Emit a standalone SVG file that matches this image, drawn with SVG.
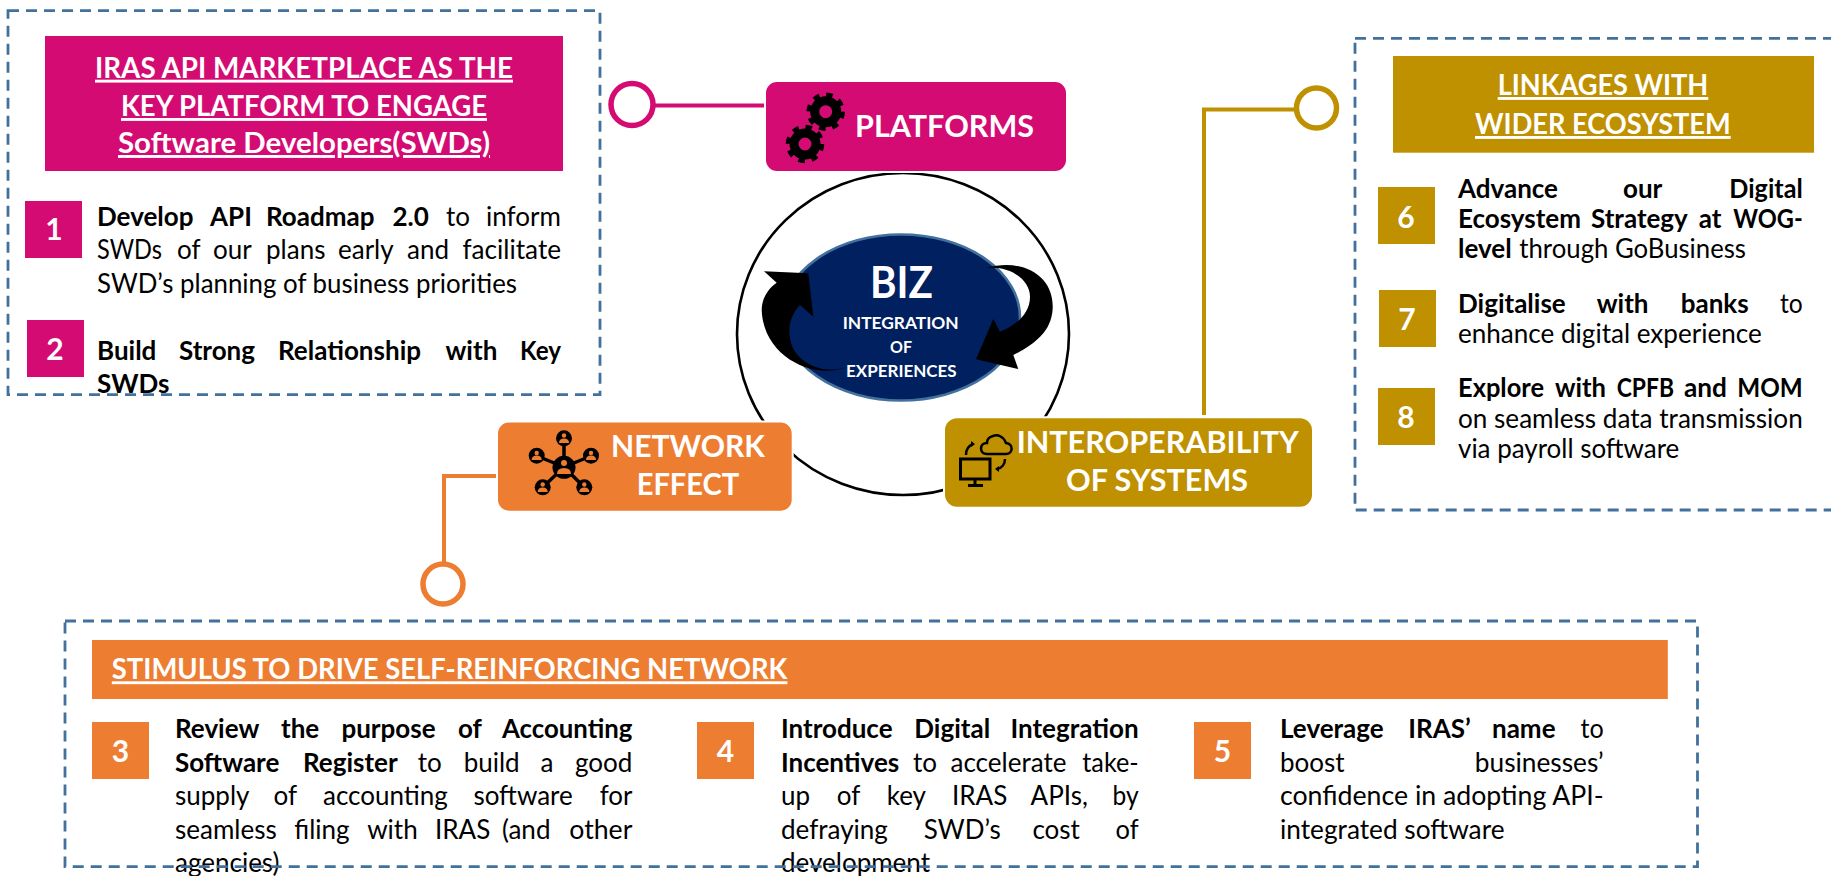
<svg xmlns="http://www.w3.org/2000/svg" width="1831" height="876" viewBox="0 0 1831 876">
<style>
text{font-family:Lato,"Liberation Sans",sans-serif;fill:#000}
.b{font-size:26px;white-space:pre}
.bd,tspan.bd{font-weight:700}
.t{font-size:29px;font-weight:700;fill:#fff;text-anchor:start;text-decoration:underline}
.n{font-size:31px;font-weight:700;fill:#fff}
.d{font-size:30px;font-weight:700;fill:#fff;text-anchor:middle}
.w{fill:#fff;font-weight:700}
.dash{fill:none;stroke:#41719c;stroke-width:2.800;stroke-dasharray:11 7}
.pk{fill:#d30b72}.or{fill:#ed7d31}.gd{fill:#bf9000}
.conn{fill:none;stroke-width:4}
.ring{fill:#fff;stroke-width:5.500}
</style>
<defs>
<g id="gear"><circle r="11" fill="none" stroke="#000" stroke-width="9"/><circle r="17" fill="none" stroke="#000" stroke-width="4.500" stroke-dasharray="6.500 6.850"/></g>
</defs>

<g id="connectors">
<path class="conn" stroke="#d30b72" d="M654 105.500H766"/>
<circle class="ring" stroke="#d30b72" cx="632" cy="104.500" r="21"/>
<path class="conn" stroke="#bf9000" d="M1295 109.500H1204V415"/>
<circle class="ring" stroke="#bf9000" cx="1316.500" cy="108" r="20"/>
<path class="conn" stroke="#ed7d31" d="M498 476H444V563"/>
<circle class="ring" stroke="#ed7d31" cx="443" cy="584" r="20"/>
</g>

<g id="hub">
<ellipse cx="903" cy="334" rx="166" ry="161" fill="none" stroke="#000" stroke-width="2.600"/>
<ellipse cx="901" cy="317.500" rx="119" ry="83" fill="#002060" stroke="#41719c" stroke-width="2.600"/>
<text class="w" x="870" y="297.700" font-size="43" textLength="63" lengthAdjust="spacingAndGlyphs">BIZ</text>
<text class="w" x="842.700" y="328.700" font-size="17" textLength="116" lengthAdjust="spacingAndGlyphs">INTEGRATION</text>
<text class="w" x="890" y="352.500" font-size="17" textLength="22" lengthAdjust="spacingAndGlyphs">OF</text>
<text class="w" x="846" y="376.700" font-size="17" textLength="110.700" lengthAdjust="spacingAndGlyphs">EXPERIENCES</text>
<path d="M846.700 367.300C813.300 380 763.300 356.700 761.700 310C761.700 298.300 768.300 288.300 776.700 282.700L764 271.300L808.300 273.300L813.300 316.700L800 305C790 315 786.700 330 791.700 345C798.300 363.300 823.300 375 846.700 367.300Z"/>
<path d="M986 268.300C1006.700 261.700 1030 265 1043.300 280C1055 293.300 1056.700 316.700 1043.300 333.300C1035 343.300 1023.300 350 1013.300 355L1018.300 369L976 359.300L993.300 319L1000 331.700C1016.700 325 1030 313.300 1030 296.700C1030 280 1010 265 986 268.300Z"/>
</g>

<g id="node-platforms">
<rect class="pk" x="765" y="81" width="302" height="91" rx="12" stroke="#fff" stroke-width="2"/>
<use href="#gear" x="825.700" y="111.700"/>
<use href="#gear" x="805" y="144"/>
<text class="n" x="855" y="137" textLength="179" lengthAdjust="spacingAndGlyphs">PLATFORMS</text>
</g>

<g id="node-network">
<rect class="or" x="497" y="421.500" width="295.700" height="90.200" rx="12" stroke="#fff" stroke-width="2"/>
<g stroke="#000" stroke-width="3.500"><path d="M564 467V438M564 467L537 456M564 467L591 456M564 467L543 487M564 467L584 487"/></g>
<circle cx="564" cy="467.300" r="11.500"/>
<g fill="#000"><circle cx="564" cy="438.300" r="8"/><circle cx="536.700" cy="455.700" r="8"/><circle cx="591" cy="455.700" r="8"/><circle cx="542.700" cy="487.300" r="8"/><circle cx="584.300" cy="487.300" r="8"/></g>
<g fill="#ed7d31">
<circle cx="564" cy="463" r="3"/><path d="M557 474q0-6 7-6t7 6z"/>
<circle cx="564" cy="435.500" r="2.200"/><path d="M559 443q0-4.500 5-4.500t5 4.500z"/>
<circle cx="536.700" cy="453" r="2.200"/><path d="M531.700 460q0-4.500 5-4.500t5 4.500z"/>
<circle cx="591" cy="453" r="2.200"/><path d="M586 460q0-4.500 5-4.500t5 4.500z"/>
<circle cx="542.700" cy="484.500" r="2.200"/><path d="M537.700 492q0-4.500 5-4.500t5 4.500z"/>
<circle cx="584.300" cy="484.500" r="2.200"/><path d="M579.300 492q0-4.500 5-4.500t5 4.500z"/>
</g>
<text class="n" x="611" y="456.700" textLength="154" lengthAdjust="spacingAndGlyphs">NETWORK</text>
<text class="n" x="636.700" y="495.300" textLength="102.600" lengthAdjust="spacingAndGlyphs">EFFECT</text>
</g>

<g id="node-interoperability">
<rect class="gd" x="944" y="417.300" width="369" height="90.400" rx="13" stroke="#fff" stroke-width="2"/>
<g fill="none" stroke="#000" stroke-width="2.500">
<rect x="960.500" y="459" width="29.500" height="20" stroke-width="3"/>
<path d="M975 479V485M968 485.500H983" stroke-width="3"/>
<path d="M987 454H1006C1013 454 1014 444 1006 443C1004 437 998 434 993 436C989 437 987 440 987 443C979 443 979 454 987 454Z"/>
<path d="M966 455C966 449 968 446 973 444"/>
<path d="M1005 459C1005 464 1002 468 997 469"/>
</g>
<path d="M971 441L975 444L971 447Z M999 466L995 469L999 472Z"/>
<text class="n" x="1016.700" y="452.700" textLength="282" lengthAdjust="spacingAndGlyphs">INTEROPERABILITY</text>
<text class="n" x="1066" y="491" textLength="182" lengthAdjust="spacingAndGlyphs">OF SYSTEMS</text>
</g>

<g id="panel-platforms">
<rect class="pk" x="45" y="36" width="518" height="135"/>
<text class="t" x="95" y="77.700" textLength="418" lengthAdjust="spacingAndGlyphs">IRAS API MARKETPLACE AS THE</text>
<text class="t" x="121" y="116" textLength="366" lengthAdjust="spacingAndGlyphs">KEY PLATFORM TO ENGAGE</text>
<text class="t" x="118" y="153" textLength="372" lengthAdjust="spacingAndGlyphs">Software Developers(SWDs)</text>
<g id="item-1"><rect class="pk" x="25" y="201" width="57" height="57"/><text class="d" x="54" y="240">1</text>
<text class="b" y="226"><tspan class="bd" x="97">Develop</tspan><tspan class="bd" x="210">API</tspan><tspan class="bd" x="266">Roadmap</tspan><tspan class="bd" x="392.500">2.0</tspan><tspan x="446">to</tspan><tspan x="486" textLength="75" lengthAdjust="spacingAndGlyphs">inform</tspan></text>
<text class="b" y="259"><tspan x="97" textLength="65" lengthAdjust="spacingAndGlyphs">SWDs</tspan><tspan x="177">of</tspan><tspan x="213">our</tspan><tspan x="266">plans</tspan><tspan x="338">early</tspan><tspan x="407">and</tspan><tspan x="462.500" textLength="98.500" lengthAdjust="spacingAndGlyphs">facilitate</tspan></text>
<text class="b" x="97" y="293" textLength="420" lengthAdjust="spacingAndGlyphs">SWD’s planning of business priorities</text></g>
<g id="item-2"><rect class="pk" x="27" y="320" width="57" height="57"/><text class="d" x="55" y="360">2</text>
<text class="b" y="360"><tspan class="bd" x="97">Build</tspan><tspan class="bd" x="179">Strong</tspan><tspan class="bd" x="278">Relationship</tspan><tspan class="bd" x="445.500">with</tspan><tspan class="bd" x="520" textLength="41" lengthAdjust="spacingAndGlyphs">Key</tspan></text>
<text class="b bd" x="97" y="393">SWDs</text></g>
<rect class="dash" x="8" y="10.700" width="592" height="384"/>
</g>

<g id="panel-ecosystem">
<rect class="gd" x="1393" y="56" width="421" height="96.700"/>
<text class="t" x="1497.700" y="95" textLength="210.600" lengthAdjust="spacingAndGlyphs">LINKAGES WITH</text>
<text class="t" x="1475" y="134" textLength="255.700" lengthAdjust="spacingAndGlyphs">WIDER ECOSYSTEM</text>
<g id="item-6"><rect class="gd" x="1378" y="187" width="57" height="57"/><text class="d" x="1406" y="227.700">6</text>
<text class="b" y="198.300"><tspan class="bd" x="1458">Advance</tspan><tspan class="bd" x="1623">our</tspan><tspan class="bd" x="1729.300" textLength="73.400" lengthAdjust="spacingAndGlyphs">Digital</tspan></text>
<text class="b" y="228"><tspan class="bd" x="1458">Ecosystem</tspan><tspan class="bd" x="1591">Strategy</tspan><tspan class="bd" x="1698.700">at</tspan><tspan class="bd" x="1733.300" textLength="69.400" lengthAdjust="spacingAndGlyphs">WOG-</tspan></text>
<text class="b" y="258"><tspan class="bd" x="1458">level</tspan><tspan x="1519.300" textLength="226.700" lengthAdjust="spacingAndGlyphs">through GoBusiness</tspan></text></g>
<g id="item-7"><rect class="gd" x="1379" y="290" width="57" height="57"/><text class="d" x="1407" y="330">7</text>
<text class="b" y="313"><tspan class="bd" x="1458">Digitalise</tspan><tspan class="bd" x="1596.700">with</tspan><tspan class="bd" x="1680.700">banks</tspan><tspan x="1780" textLength="22.700" lengthAdjust="spacingAndGlyphs">to</tspan></text>
<text class="b" x="1458" y="343" textLength="303.700" lengthAdjust="spacingAndGlyphs">enhance digital experience</text></g>
<g id="item-8"><rect class="gd" x="1378" y="388" width="57" height="57"/><text class="d" x="1406" y="428">8</text>
<text class="b" y="397"><tspan class="bd" x="1458" textLength="86" lengthAdjust="spacingAndGlyphs">Explore</tspan><tspan class="bd" x="1555" textLength="51" lengthAdjust="spacingAndGlyphs">with</tspan><tspan class="bd" x="1616.700" textLength="57.300" lengthAdjust="spacingAndGlyphs">CPFB</tspan><tspan class="bd" x="1684" textLength="43" lengthAdjust="spacingAndGlyphs">and</tspan><tspan class="bd" x="1737.300" textLength="65.400" lengthAdjust="spacingAndGlyphs">MOM</tspan></text>
<text class="b" x="1458" y="428" textLength="344.700" lengthAdjust="spacingAndGlyphs">on seamless data transmission</text>
<text class="b" x="1458" y="458" textLength="221.300" lengthAdjust="spacingAndGlyphs">via payroll software</text></g>
<rect class="dash" x="1355" y="38.300" width="490" height="471.700"/>
</g>

<g id="panel-network">
<rect class="or" x="92" y="640" width="1575.800" height="59"/>
<text class="t" x="111.800" y="679.300" textLength="675.600" lengthAdjust="spacingAndGlyphs">STIMULUS TO DRIVE SELF-REINFORCING NETWORK</text>
<g id="item-3"><rect class="or" x="92" y="722" width="57" height="57"/><text class="d" x="120.500" y="762">3</text>
<text class="b" y="737.700"><tspan class="bd" x="175">Review</tspan><tspan class="bd" x="281">the</tspan><tspan class="bd" x="341.400">purpose</tspan><tspan class="bd" x="458">of</tspan><tspan class="bd" x="502" textLength="130.400" lengthAdjust="spacingAndGlyphs">Accounting</tspan></text>
<text class="b" y="771.700"><tspan class="bd" x="175">Software</tspan><tspan class="bd" x="303">Register</tspan><tspan x="417.700">to</tspan><tspan x="463.700">build</tspan><tspan x="540.600">a</tspan><tspan x="575" textLength="57.400" lengthAdjust="spacingAndGlyphs">good</tspan></text>
<text class="b" y="805"><tspan x="175">supply</tspan><tspan x="273.600">of</tspan><tspan x="323">accounting</tspan><tspan x="473.400">software</tspan><tspan x="599.700" textLength="32.700" lengthAdjust="spacingAndGlyphs">for</tspan></text>
<text class="b" y="839"><tspan x="175">seamless</tspan><tspan x="294.300">filing</tspan><tspan x="367.200">with</tspan><tspan x="435">IRAS</tspan><tspan x="502">(and</tspan><tspan x="569.300" textLength="63.100" lengthAdjust="spacingAndGlyphs">other</tspan></text>
<text class="b" x="175" y="872">agencies)</text></g>
<g id="item-4"><rect class="or" x="697" y="722" width="57" height="57"/><text class="d" x="725.500" y="762">4</text>
<text class="b" y="737.700"><tspan class="bd" x="781">Introduce</tspan><tspan class="bd" x="914.300">Digital</tspan><tspan class="bd" x="1010.500" textLength="128.200" lengthAdjust="spacingAndGlyphs">Integration</tspan></text>
<text class="b" y="771.700"><tspan class="bd" x="781">Incentives</tspan><tspan x="913">to</tspan><tspan x="950.500">accelerate</tspan><tspan x="1082.300" textLength="56.400" lengthAdjust="spacingAndGlyphs">take-</tspan></text>
<text class="b" y="805"><tspan x="781">up</tspan><tspan x="836.800">of</tspan><tspan x="886.700">key</tspan><tspan x="952">IRAS</tspan><tspan x="1030.600">APIs,</tspan><tspan x="1112.600" textLength="26.100" lengthAdjust="spacingAndGlyphs">by</tspan></text>
<text class="b" y="839"><tspan x="781">defraying</tspan><tspan x="923.800">SWD’s</tspan><tspan x="1032.400">cost</tspan><tspan x="1115.600" textLength="23.100" lengthAdjust="spacingAndGlyphs">of</tspan></text>
<text class="b" x="781" y="872">development</text></g>
<g id="item-5"><rect class="or" x="1194" y="722" width="57" height="57"/><text class="d" x="1222.500" y="762">5</text>
<text class="b" y="737.700"><tspan class="bd" x="1280">Leverage</tspan><tspan class="bd" x="1408.300">IRAS’</tspan><tspan class="bd" x="1492">name</tspan><tspan x="1580.500" textLength="23.200" lengthAdjust="spacingAndGlyphs">to</tspan></text>
<text class="b" y="771.700"><tspan x="1280">boost</tspan><tspan x="1474.800" textLength="128.900" lengthAdjust="spacingAndGlyphs">businesses’</tspan></text>
<text class="b" x="1280" y="805" textLength="323.700" lengthAdjust="spacingAndGlyphs">confidence in adopting API-</text>
<text class="b" x="1280" y="839" textLength="224.500" lengthAdjust="spacingAndGlyphs">integrated software</text></g>
<rect class="dash" x="65" y="621" width="1632.500" height="245.700"/>
</g>
</svg>
